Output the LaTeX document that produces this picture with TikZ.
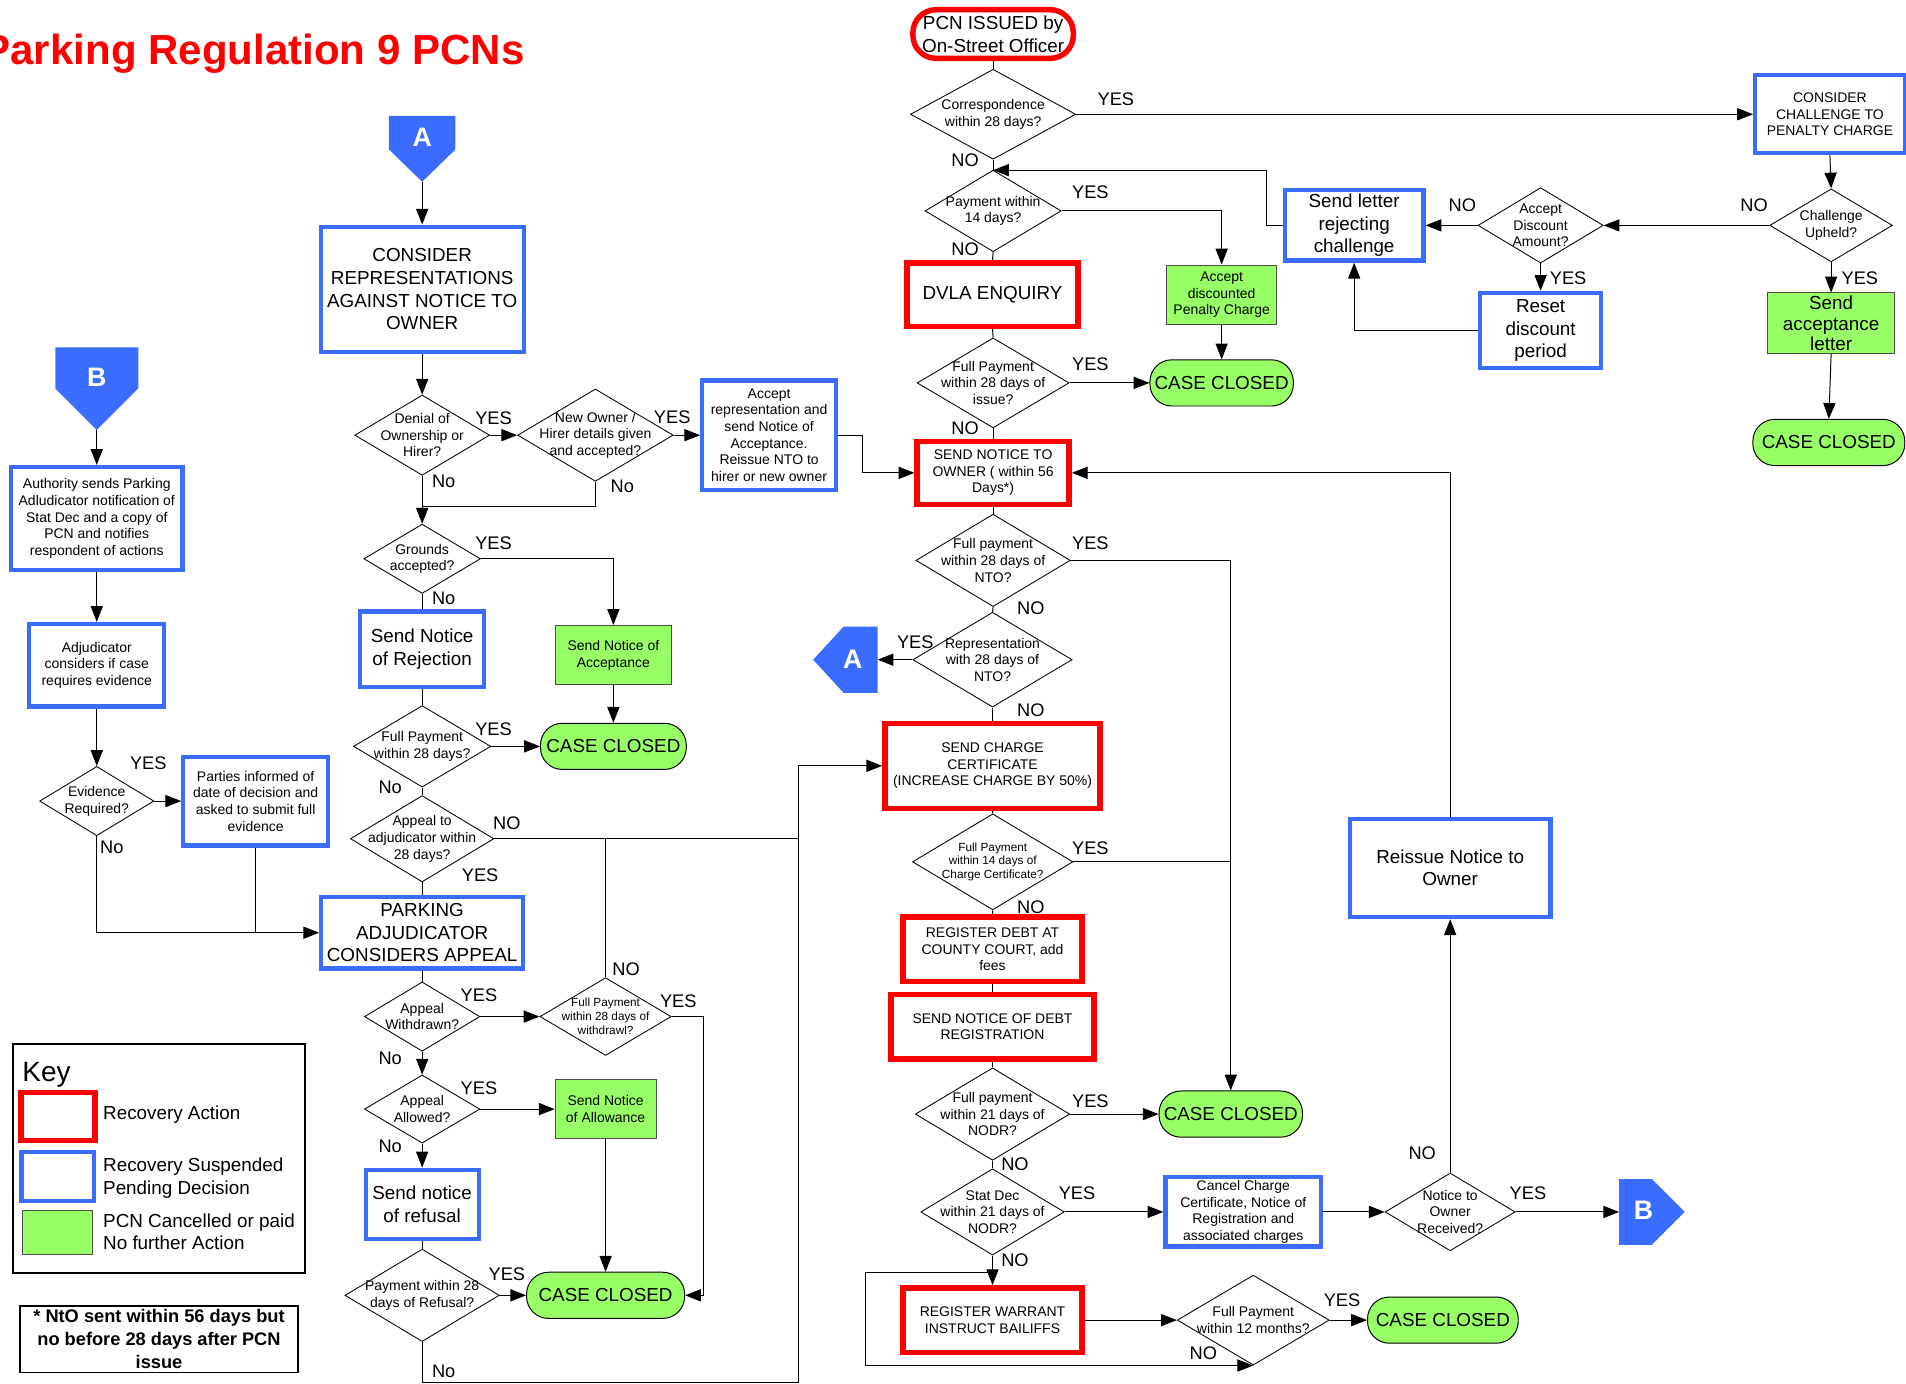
\documentclass[tikz,border=0pt]{standalone}
\usepackage{fontspec}
\setmainfont{Liberation Sans}
\usetikzlibrary{shapes.geometric,arrows.meta}

\definecolor{recred}{RGB}{255,0,0}
\definecolor{susblue}{RGB}{58,108,255}
\definecolor{okgreen}{RGB}{153,255,102}
\newcommand{\bigtxt}{\fontsize{15.5}{18.6}\selectfont}
\newcommand{\midtxt}{\fontsize{11.5}{13.7}\selectfont}
\newcommand{\smalltxt}{\fontsize{9.7}{11.4}\selectfont}

\begin{document}
\begin{tikzpicture}[x=1pt,y=-1pt,line width=0.8pt,>={Triangle[length=13pt,width=10pt]}]
  \tikzstyle{recovery}=[rectangle,draw=recred,line width=4.5pt,align=center,inner sep=0pt,font=\midtxt]
  \tikzstyle{suspended}=[rectangle,draw=susblue,line width=3.5pt,align=center,inner sep=0pt,font=\midtxt]
  \tikzstyle{cancelled}=[rectangle,draw=black!70,fill=okgreen,line width=0.8pt,align=center,inner sep=0pt,font=\midtxt]
  \tikzstyle{closed}=[rectangle,rounded corners=18pt,draw,fill=okgreen,line width=0.8pt,inner sep=0pt,minimum height=38,font=\bigtxt]
  \tikzstyle{start}=[rectangle,rounded corners=19pt,draw=recred,line width=4.5pt,align=center,inner sep=0pt,font=\bigtxt]
  \tikzstyle{decision}=[diamond,draw,line width=0.7pt,inner sep=0pt]
  \tikzstyle{every label}=[align=center,font=\midtxt,inner sep=0pt]
  \tikzstyle{yn}=[inner sep=0pt,font=\fontsize{15}{18}\selectfont]
  \tikzstyle{letter}=[inner sep=0pt,text=white,font=\bfseries\fontsize{22}{24}\selectfont]
  \tikzstyle{keytext}=[anchor=west,align=left,inner sep=0pt,font=\bigtxt]

  \useasboundingbox (0,0) rectangle (1568,1138);

  \node[anchor=base east,inner sep=0pt,text=recred,font=\bfseries\fontsize{34.6}{40}\selectfont] (T_title) at (432,53) {Parking Regulation 9 PCNs};

  % main column
  \node[start,minimum width=132,minimum height=40] (R_pcn) at (817,28) {PCN ISSUED by\\On-Street Officer};
  \node[decision,minimum width=136,minimum height=74,label={center:Correspondence\\within 28 days?}] (Q_corr) at (817,94) {};
  \node[decision,minimum width=112,minimum height=67,label={center:Payment within\\14 days?}] (Q_pay14) at (817,173.5) {};
  \node[recovery,minimum width=141,minimum height=52,font=\bigtxt] (R_dvla) at (816.5,242.5) {DVLA ENQUIRY};
  \node[cancelled,minimum width=90,minimum height=49] (G_disc) at (1005,242.5) {Accept\\discounted\\Penalty Charge};
  \node[decision,minimum width=125,minimum height=74,label={center:Full Payment\\within 28 days of\\issue?}] (Q_full28) at (817,315) {};
  \node[closed,minimum width=118] (C_1) at (1005,315) {CASE CLOSED};
  \node[recovery,minimum width=125,minimum height=52] (R_nto) at (817,389) {SEND NOTICE TO\\OWNER ( within 56\\Days*)};
  \node[suspended,minimum width=110,minimum height=90] (S_accrep) at (632.7,358) {Accept\\representation and\\send Notice of\\Acceptance.\\Reissue NTO to\\hirer or new owner};
  \node[decision,minimum width=127,minimum height=76,label={center:Full payment\\within 28 days of\\NTO?}] (Q_nto28) at (817,461) {};
  \node[decision,minimum width=131,minimum height=78,label={center:Representation\\with 28 days of\\NTO?}] (Q_rep) at (816.5,542.7) {};
  \node[recovery,minimum width=177,minimum height=70] (R_cc) at (816.5,630) {SEND CHARGE\\CERTIFICATE\\(INCREASE CHARGE BY 50\%)};
  \node[decision,minimum width=132,minimum height=79,label={[font=\smalltxt]center:Full Payment\\within 14 days of\\Charge Certificate?}] (Q_cc14) at (816.7,709) {};
  \node[recovery,minimum width=147,minimum height=53] (R_debt) at (816.5,781) {REGISTER DEBT AT\\COUNTY COURT, add\\fees};
  \node[recovery,minimum width=167,minimum height=53] (R_nodr) at (816.5,844.5) {SEND NOTICE OF DEBT\\REGISTRATION};
  \node[decision,minimum width=127,minimum height=76,label={center:Full payment\\within 21 days of\\NODR?}] (Q_nodr) at (816.5,916.5) {};
  \node[closed,minimum width=118] (C_3) at (1012.5,916.5) {CASE CLOSED};
  \node[decision,minimum width=118,minimum height=71,label={center:Stat Dec\\within 21 days of\\NODR?}] (Q_stat) at (816.5,997) {};
  \node[suspended,minimum width=128,minimum height=57] (S_cancel) at (1022.8,997) {Cancel Charge\\Certificate, Notice of\\Registration and\\associated charges};
  \node[decision,minimum width=107,minimum height=64,label={center:Notice to\\Owner\\Received?}] (Q_ntor) at (1193,997) {};
  \node[suspended,minimum width=165,minimum height=81,font=\bigtxt] (S_reissue) at (1193,714) {Reissue Notice to\\Owner};
  \node[recovery,minimum width=147,minimum height=53] (R_warr) at (816.5,1086) {REGISTER WARRANT\\INSTRUCT BAILIFFS};
  \node[decision,minimum width=125,minimum height=74,label={center:Full Payment\\within 12 months?}] (Q_12m) at (1031,1086) {};
  \node[closed,minimum width=124] (C_4) at (1187,1086) {CASE CLOSED};

  % challenge column
  \node[suspended,minimum width=123,minimum height=64] (S_chal) at (1505.4,94) {CONSIDER\\CHALLENGE TO\\PENALTY CHARGE};
  \node[decision,minimum width=101,minimum height=60,label={center:Challenge\\Upheld?}] (Q_up) at (1506.4,185.4) {};
  \node[decision,minimum width=103,minimum height=62,label={center:Accept\\Discount\\Amount?}] (Q_disc) at (1267.4,185.4) {};
  \node[suspended,minimum width=114,minimum height=58,font=\bigtxt] (S_rej) at (1114,185.4) {Send letter\\rejecting\\challenge};
  \node[suspended,minimum width=99.5,minimum height=62,font=\bigtxt] (S_reset) at (1267.4,272) {Reset\\discount\\period};
  \node[cancelled,minimum width=104,minimum height=50,font=\fontsize{15.5}{17}\selectfont] (G_acc) at (1506.4,266) {Send\\acceptance\\letter};
  \node[closed,minimum width=125] (C_2) at (1504.5,364) {CASE CLOSED};

  % representations column
  \node[suspended,minimum width=167,minimum height=103,font=\bigtxt] (S_cons) at (347.3,238) {CONSIDER\\REPRESENTATIONS\\AGAINST NOTICE TO\\OWNER};
  \node[decision,minimum width=111,minimum height=66,label={center:Denial of\\Ownership or\\Hirer?}] (Q_deny) at (347.3,358) {};
  \node[decision,minimum width=128,minimum height=76,label={center:New Owner /\\Hirer details given\\and accepted?}] (Q_new) at (489.8,358) {};
  \node[decision,minimum width=96,minimum height=57,label={center:Grounds\\accepted?}] (Q_grnd) at (347.3,459.7) {};
  \node[suspended,minimum width=102,minimum height=62,font=\bigtxt] (S_rejn) at (347.3,534) {Send Notice\\of Rejection};
  \node[cancelled,minimum width=96,minimum height=49] (G_acc2) at (504.6,539) {Send Notice of\\Acceptance};
  \node[closed,minimum width=120] (C_5) at (504.6,614) {CASE CLOSED};
  \node[decision,minimum width=113,minimum height=67,label={center:Full Payment\\within 28 days?}] (Q_fp28) at (347.3,614) {};
  \node[decision,minimum width=118,minimum height=71,label={center:Appeal to\\adjudicator within\\28 days?}] (Q_app) at (347.3,690) {};
  \node[suspended,minimum width=166,minimum height=59,font=\bigtxt] (S_pa) at (347.3,767.3) {PARKING\\ADJUDICATOR\\CONSIDERS APPEAL};
  \node[decision,minimum width=95,minimum height=57,label={center:Appeal\\Withdrawn?}] (Q_wd) at (347.3,836.3) {};
  \node[decision,minimum width=108,minimum height=64,label={[font=\smalltxt]center:Full Payment\\within 28 days of\\withdrawl?}] (Q_wd28) at (498.2,836.3) {};
  \node[decision,minimum width=95,minimum height=56,label={center:Appeal\\Allowed?}] (Q_allow) at (347.3,912.4) {};
  \node[cancelled,minimum width=83,minimum height=49] (G_allow) at (498.2,912.4) {Send Notice\\of Allowance};
  \node[suspended,minimum width=93,minimum height=57,font=\bigtxt] (S_refuse) at (347.3,990.7) {Send notice\\of refusal};
  \node[decision,minimum width=127,minimum height=76,label={center:Payment within 28\\days of Refusal?}] (Q_ref28) at (347.3,1065.6) {};
  \node[closed,minimum width=130] (C_6) at (498.2,1065.6) {CASE CLOSED};

  % stat dec column
  \node[suspended,minimum width=141,minimum height=85] (S_auth) at (79.6,426.7) {Authority sends Parking\\Adludicator notification of\\Stat Dec and a copy of\\PCN and notifies\\respondent of actions};
  \node[suspended,minimum width=111,minimum height=68] (S_adj) at (79.6,547.3) {Adjudicator\\considers if case\\requires evidence};
  \node[decision,minimum width=94,minimum height=57,label={center:Evidence\\Required?}] (Q_evid) at (79.6,659) {};
  \node[suspended,minimum width=119,minimum height=73] (S_part) at (210.3,659) {Parties informed of\\date of decision and\\asked to submit full\\evidence};

  % off-page connectors
  \fill[susblue] (320,95.4) -- (374.6,95.4) -- (374.6,123) -- (347.3,149.5) -- (320,123) -- cycle;
  \fill[susblue] (45.5,285.7) -- (113.8,285.7) -- (113.8,319.5) -- (79.6,353.7) -- (45.5,319.5) -- cycle;
  \fill[susblue] (669,542.7) -- (694,515.5) -- (722,515.5) -- (722,570) -- (694,570) -- cycle;
  \fill[susblue] (1332,970) -- (1359,970) -- (1386,997) -- (1359,1024) -- (1332,1024) -- cycle;
  \node[letter] (A_1) at (347.3,113) {A};
  \node[letter] (B_1) at (79.6,310) {B};
  \node[letter] (A_2) at (701.6,542.7) {A};
  \node[letter] (B_2) at (1352,995.5) {B};
  \coordinate (A_1tip) at (347.3,149.5);
  \coordinate (B_1tip) at (79.6,353.7);
  \coordinate (A_2in) at (722,542.7);
  \coordinate (B_2in) at (1332,997);

  % junctions
  \coordinate (J_ret) at (817,140);
  \coordinate (J_no) at (347.3,417);
  \coordinate (J_wd) at (498.2,690);
  \coordinate (J_app) at (657,690);
  \coordinate (J_cc) at (1012.5,709);
  \coordinate (J_part) at (210.3,767.3);
  \coordinate (J_warr) at (816.5,1047);

  % key
  \node[draw,line width=1.5pt,minimum width=240,minimum height=188,inner sep=0pt] (K_frame) at (131,953) {};
  \node[anchor=base west,inner sep=0pt,font=\fontsize{23}{26}\selectfont] (K_title) at (18,889.5) {Key};
  \node[recovery,minimum width=61,minimum height=39.5] (K_red) at (47.7,918.6) {};
  \node[suspended,minimum width=59.5,minimum height=40] (K_blue) at (47.4,968) {};
  \node[cancelled,minimum width=58,minimum height=35.4] (K_green) at (47.4,1013.9) {};
  \node[keytext] (K_t1) at (84.5,916.7) {Recovery Action};
  \node[keytext] (K_t2) at (84.5,969) {Recovery Suspended\\Pending Decision};
  \node[keytext] (K_t3) at (84.5,1013.3) {PCN Cancelled or paid\\No further Action};
  \node[draw,line width=1.5pt,minimum width=229,minimum height=55,inner sep=0pt,align=center,font=\bfseries\fontsize{15}{18.6}\selectfont] (N_note) at (130.8,1101.6) {* NtO sent within 56 days but\\no before 28 days after PCN\\issue};

  % yes / no labels
  \foreach \t/\x/\y [count=\i] in {YES/918/82, NO/794/132, YES/897/158, NO/794/205, YES/897/300, NO/794/352,
      YES/897/447, NO/848/500, YES/753/528, NO/848/584, YES/897/698, NO/848/746, YES/897/906, NO/835/958,
      YES/886/982, NO/835/1037, YES/1104/1070, NO/990/1113, NO/1170/949, YES/1257/982, NO/1443/169,
      YES/1530/229, NO/1203/169, YES/1290/229, YES/406/344, No/365/396, YES/553/343, No/512/400,
      YES/406/447, No/365/492, YES/406/600, No/321/648, NO/417/677, YES/395/720, NO/515/797,
      YES/558/824, YES/394/819, No/321/871, YES/394/895, No/321/943, YES/417/1048, No/365/1128,
      YES/122/628, No/92/697}
    \node[yn] (L_\i) at (\x,\y) {\t};

  % connectors, main column
  \draw (R_pcn) -- (Q_corr);
  \draw[->] (Q_corr.east) -- (S_chal.west);
  \draw (Q_corr.south) -- (Q_pay14.north);
  \draw[->] (S_rej.west) -- ++(-13,0) |- (J_ret);
  \draw[->] (Q_pay14.east) -| (G_disc.north);
  \draw (Q_pay14.south) -- (R_dvla.north);
  \draw (R_dvla.south) -- (Q_full28.north);
  \draw[->] (G_disc.south) -- (C_1.north);
  \draw[->] (Q_full28.east) -- (C_1.west);
  \draw (Q_full28.south) -- (R_nto.north);
  \draw[->] (S_accrep.east) -- ++(20,0) |- (R_nto.west);
  \draw[->] (S_reissue.north) |- (R_nto.east);
  \draw (R_nto.south) -- (Q_nto28.north);
  \draw[->] (Q_nto28.east) -| (C_3.north);
  \draw (Q_nto28.south) -- (Q_rep.north);
  \draw[->] (Q_rep.west) -- (A_2in);
  \draw (Q_rep.south) -- (R_cc.north);
  \draw (R_cc.south) -- (Q_cc14.north);
  \draw (Q_cc14.east) -- (J_cc);
  \draw (Q_cc14.south) -- (R_debt.north);
  \draw (R_debt.south) -- (R_nodr.north);
  \draw (R_nodr.south) -- (Q_nodr.north);
  \draw[->] (Q_nodr.east) -- (C_3.west);
  \draw (Q_nodr.south) -- (Q_stat.north);
  \draw[->] (Q_stat.east) -- (S_cancel.west);
  \draw[->] (Q_stat.south) -- (R_warr.north);
  \draw[->] (S_cancel.east) -- (Q_ntor.west);
  \draw[->] (Q_ntor.east) -- (B_2in);
  \draw[->] (Q_ntor.north) -- (S_reissue.south);
  \draw[->] (R_warr.east) -- (Q_12m.west);
  \draw[->] (Q_12m.east) -- (C_4.west);
  \draw[->] (J_warr) -- ++(-104.5,0) |- (Q_12m.south);

  % connectors, challenge column
  \draw[->] (S_chal.south) -- (Q_up.north);
  \draw[->] (Q_up.west) -- (Q_disc.east);
  \draw[->] (Q_disc.west) -- (S_rej.east);
  \draw[->] (Q_disc.south) -- (S_reset.north);
  \draw[->] (S_reset.west) -| (S_rej.south);
  \draw[->] (Q_up.south) -- (G_acc.north);
  \draw[->] (G_acc.south) -- (C_2.north);

  % connectors, representations column
  \draw[->] (A_1tip) -- (S_cons.north);
  \draw[->] (S_cons.south) -- (Q_deny.north);
  \draw[->] (Q_deny.east) -- (Q_new.west);
  \draw[->] (Q_new.east) -- (S_accrep.west);
  \draw[->] (Q_deny.south) -- (Q_grnd.north);
  \draw (Q_new.south) |- (J_no);
  \draw[->] (Q_grnd.east) -| (G_acc2.north);
  \draw (Q_grnd.south) -- (S_rejn.north);
  \draw[->] (G_acc2.south) -- (C_5.north);
  \draw (S_rejn.south) -- (Q_fp28.north);
  \draw[->] (Q_fp28.east) -- (C_5.west);
  \draw (Q_fp28.south) -- (Q_app.north);
  \draw[->] (Q_app.east) -- (J_app) |- (R_cc.west);
  \draw (Q_app.south) -- (S_pa.north);
  \draw (J_wd) -- (Q_wd28.north);
  \draw (S_pa.south) -- (Q_wd.north);
  \draw[->] (Q_wd.east) -- (Q_wd28.west);
  \draw[->] (Q_wd28.east) -- ++(26.5,0) |- (C_6.east);
  \draw[->] (Q_wd.south) -- (Q_allow.north);
  \draw[->] (Q_allow.east) -- (G_allow.west);
  \draw[->] (G_allow.south) -- (C_6.north);
  \draw[->] (Q_allow.south) -- (S_refuse.north);
  \draw (S_refuse.south) -- (Q_ref28.north);
  \draw[->] (Q_ref28.east) -- (C_6.west);
  \draw (Q_ref28.south) -- ++(0,33) -| (J_app);

  % connectors, stat dec column
  \draw[->] (B_1tip) -- (S_auth.north);
  \draw[->] (S_auth.south) -- (S_adj.north);
  \draw[->] (S_adj.south) -- (Q_evid.north);
  \draw[->] (Q_evid.east) -- (S_part.west);
  \draw[->] (Q_evid.south) |- (S_pa.west);
  \draw (S_part.south) -- (J_part);

\end{tikzpicture}
\end{document}
